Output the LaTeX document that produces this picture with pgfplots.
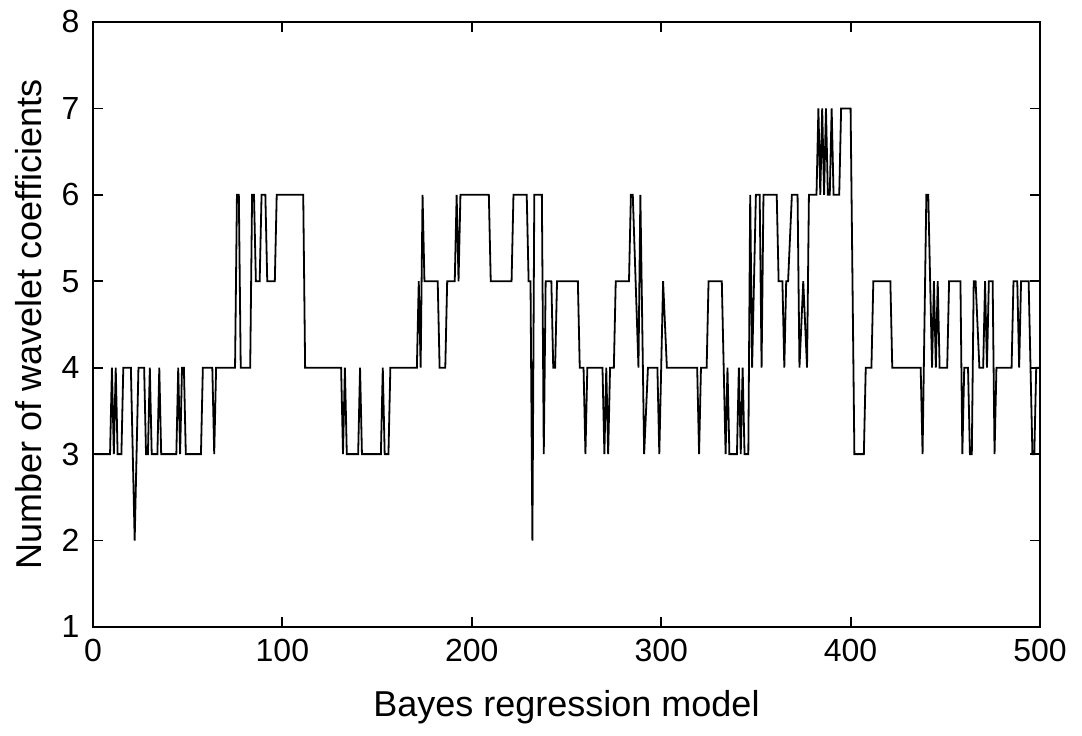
\documentclass[border=0pt]{standalone}
\usepackage{pgfplots}
\pgfplotsset{compat=1.18}
\usepackage{fontspec}
\setmainfont{Liberation Sans}
\begin{document}
\fontsize{16}{19}\selectfont
\begin{tikzpicture}
\begin{axis}[
  name=ax,
  scale only axis,
  width=473.5pt, height=302.5pt,
  xmin=0, xmax=500, ymin=1, ymax=8,
  xtick={0,100,200,300,400,500},
  ytick={1,2,3,4,5,6,7,8},
  tick align=inside,
  major tick length=5pt,
  axis line style={line width=0.9pt},
  every tick/.style={line width=0.9pt, black},
  tick label style={font=\fontsize{16}{19}\selectfont},
  xticklabel style={yshift=-0.5pt},
  yticklabel style={xshift=-1.2pt},
  /pgf/number format/assume math mode=true,
  xlabel={Bayes regression model},
  ylabel={Number of wavelet coefficients},
  xlabel style={font=\fontsize{18}{21}\selectfont, at={(axis description cs:0.5,-0.1488)}, anchor=base},
  ylabel style={font=\fontsize{18}{21}\selectfont, at={(axis description cs:-0.0539,0.5)}, anchor=base},
]
\addplot[black, line width=0.9pt, mark=none] coordinates {
(1,3)(9,3)(10,4)(11,3)(12,4)(13,3)(15,3)(16,4)(20,4)(21,3)(22,2)(23,3)(24,4)
(27,4)(28,3)(29,3)(30,4)(31,3)(34,3)(35,4)(36,3)(44,3)(45,4)(46,3)(47,4)(48,4)(49,3)
(57,3)(58,4)(63,4)(64,3)(65,4)(75,4)(76,6)(77,6)(78,4)(83,4)(84,6)(85,6)(86,5)(88,5)
(89,6)(91,6)(92,5)(96,5)(97,6)(111,6)(112,4)(131,4)(132,3)(133,4)(134,3)(140,3)
(141,4)(142,3)(152,3)(153,4)(154,3)(156,3)(157,4)(171,4)(172,5)(173,4)(174,6)(175,5)
(182,5)(183,4)(186,4)(187,5)(191,5)(192,6)(193,5)(194,6)(209,6)(210,5)(221,5)(222,6)
(229,6)(230,5)(231,5)(232,2)(233,6)(237,6)(238,3)(239,5)(242,5)(243,4)(244,4)(245,5)
(256,5)(257,4)(259,4)(260,3)(261,4)(269,4)(270,3)(271,4)(272,3)(273,4)(275,4)(276,5)
(283,5)(284,6)(285,6)(288,4)(289,6)(291,3)(293,4)(298,4)(299,3)(301,5)(303,4)
(319,4)(320,3)(321,4)(324,4)(325,5)(332,5)(334,3)(335,4)(336,3)(340,3)(341,4)(342,3)
(343,4)(344,3)(346,3)(347,6)(348,4)(350,6)(352,6)(353,4)(354,6)(361,6)(362,5)(364,5)
(365,4)(366,5)(367,5)(369,6)(372,6)(373,4)(375,5)(377,4)(378,6)(382,6)(383,7)(384,6)
(385,7)(386,6)(387,7)(388,6)(389,6)(390,7)(391,6)(394,6)(395,7)(400,7)(402,3)(407,3)
(408,4)(411,4)(412,5)(421,5)(422,4)(437,4)(438,3)(440,6)(441,6)(443,4)(444,5)(445,4)
(446,5)(447,4)(451,4)(452,5)(458,5)(459,3)(460,4)(462,4)(463,3)(464,3)(465,5)(466,5)
(468,4)(470,4)(471,5)(472,4)(473,5)(475,5)(476,3)(477,4)(485,4)(486,5)(488,5)(489,4)
(490,5)(494,5)(496,3)(497,3)(498,4)(500,4)
};
\end{axis}
\path (ax.south west) ++(-46.5pt,-51pt) rectangle ++(541pt,363.5pt);
\end{tikzpicture}
\end{document}
